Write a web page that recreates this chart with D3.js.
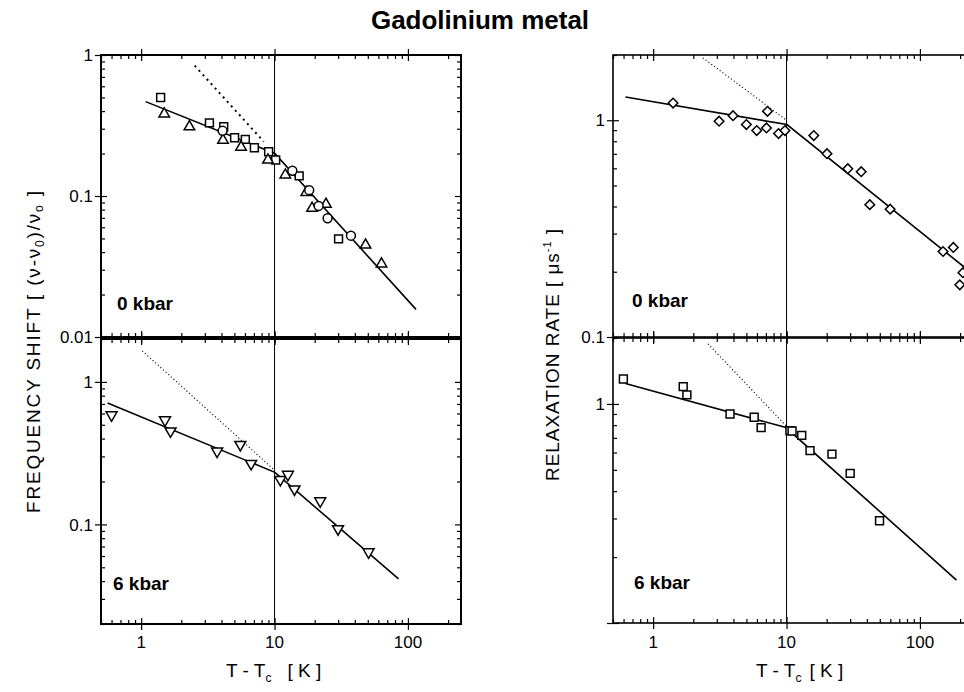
<!DOCTYPE html>
<html>
<head>
<meta charset="utf-8">
<script src="https://cdn.jsdelivr.net/npm/d3@7"></script>
<style>
  html, body { margin: 0; padding: 0; background: #fff; }
  text { font-family: "Liberation Sans", Arial, Helvetica, sans-serif; fill: #000; }
</style>
</head>
<body>
<svg id="chart" width="964" height="692"></svg>
<script>
// ---- Data: [T - Tc (K), value] ----
const xTickLabels = [1, 10, 100];

// Frequency shift, 0 kbar
const fs0Squares = [[1.4,0.50],[3.25,0.33],[4.16,0.31],[5.02,0.259],[6.04,0.252],[7.06,0.22],[9.03,0.206],[10.2,0.18],[15.3,0.139],[30.2,0.0496]];
const fs0Triangles = [[1.49,0.382],[2.3,0.31],[4.11,0.249],[5.61,0.222],[8.93,0.18],[12.05,0.141],[17.3,0.106],[19.1,0.0818],[24.3,0.0873],[48.1,0.0449],[63.4,0.033]];
const fs0Circles = [[4.08,0.29],[13.6,0.151],[18.2,0.11],[21.4,0.085],[25,0.0695],[37.4,0.0523]];
const fs0Fit = [[1.08,0.467],[10,0.201],[115,0.0157]];
const fs0Extrap = [[2.52,0.84],[8.3,0.243]];

// Frequency shift, 6 kbar
const fs6Triangles = [[0.6,0.586],[1.51,0.54],[1.66,0.452],[3.71,0.326],[5.54,0.363],[6.67,0.267],[11.05,0.206],[12.6,0.224],[14.1,0.177],[22,0.146],[29.9,0.093],[50.7,0.064]];
const fs6Fit = [[0.56,0.71],[10.06,0.232],[85,0.0414]];
const fs6Extrap = [[1.02,1.65],[10,0.24]];

// Relaxation rate, 0 kbar
const rr0Diamonds = [[1.41,1.2],[3.12,0.99],[3.97,1.05],[5.0,0.955],[5.98,0.896],[7.07,0.922],[7.2,1.1],[8.71,0.868],[9.73,0.896],[16,0.85],[20.1,0.701],[28.8,0.598],[36.3,0.579],[42.1,0.408],[59.8,0.389],[149,0.248],[178,0.259],[210,0.198],[199,0.174]];
const rr0Fit = [[0.62,1.28],[10.07,0.955],[250,0.195]];
const rr0Extrap = [[2.36,1.94],[10,1.0]];

// Relaxation rate, 6 kbar
const rr6Squares = [[0.598,1.30],[1.68,1.2],[1.79,1.1],[3.77,0.9],[5.72,0.869],[6.45,0.78],[10.6,0.755],[11,0.752],[13,0.719],[15,0.612],[21.9,0.59],[30,0.482],[49.8,0.293]];
const rr6Fit = [[0.62,1.24],[9.9,0.78],[188,0.157]];
const rr6Extrap = [[2.58,1.88],[10,0.79]];

const tc = 10; // reference line at T - Tc = 10 K

// ---- Layout ----
const svg = d3.select("#chart");

const xLeft = d3.scaleLog().domain([0.5, 250]).range([101, 461]);
const xRight = d3.scaleLog().domain([0.5, 250]).range([613, 973]);

const panels = [
  { x: xLeft,  y: d3.scaleLog().domain([0.01, 1]).range([337, 55]), yLabels: [1, 0.1, 0.01], xLabels: false,
    label: "0  kbar", labelPos: [117, 310], frame: 2,
    series: [{ data: fs0Squares, shape: "square" }, { data: fs0Triangles, shape: "tri" }, { data: fs0Circles, shape: "circle" }],
    fit: fs0Fit, extrap: fs0Extrap, dash: "2,4", dashW: 2 },
  { x: xLeft,  y: d3.scaleLog().domain([0.02, 2]).range([624, 339]), yLabels: [1, 0.1], xLabels: true,
    label: "6 kbar", labelPos: [113, 590], frame: 2,
    series: [{ data: fs6Triangles, shape: "tridown" }],
    fit: fs6Fit, extrap: fs6Extrap, dash: "1,2.5", dashW: 1.2 },
  { x: xRight, y: d3.scaleLog().domain([0.1, 2]).range([337, 55]), yLabels: [1, 0.1], xLabels: false,
    label: "0 kbar", labelPos: [632, 307], frame: 1.6,
    series: [{ data: rr0Diamonds, shape: "diamond" }],
    fit: rr0Fit, extrap: rr0Extrap, dash: "1,2.5", dashW: 1.2 },
  { x: xRight, y: d3.scaleLog().domain([0.1, 2]).range([623, 338]), yLabels: [1], xLabels: true,
    label: "6 kbar", labelPos: [634, 589], frame: 1.6,
    series: [{ data: rr6Squares, shape: "square" }],
    fit: rr6Fit, extrap: rr6Extrap, dash: "1,2.5", dashW: 1.2 }
];

const shapes = {
  square:  { type: d3.symbolSquare,   size: 62, rot: 0 },
  tri:     { type: d3.symbolTriangle, size: 48, rot: 0 },
  tridown: { type: d3.symbolTriangle, size: 52, rot: 180 },
  circle:  { type: d3.symbolCircle,   size: 62, rot: 0 },
  diamond: { type: d3.symbolSquare,   size: 46, rot: 45 }
};

const fmt = v => (v >= 1 ? d3.format("d")(v) : String(v));
const isDecade = v => Math.abs(Math.log10(v) - Math.round(Math.log10(v))) < 1e-9;

panels.forEach(p => {
  const [x0, x1] = p.x.range();
  const [yb, yt] = p.y.range();
  const g = svg.append("g");

  // ticks on all four edges: minor ticks point inward, decades cross the edge
  const majorX = p.x.ticks().filter(isDecade);
  const minorX = p.x.ticks().filter(v => !isDecade(v));
  const majorY = p.y.ticks().filter(isDecade);
  const minorY = p.y.ticks().filter(v => !isDecade(v));

  const edge = (axisFn, scale, vals, size, tx, ty) => {
    const a = g.append("g").attr("transform", `translate(${tx},${ty})`)
      .call(axisFn(scale).tickValues(vals).tickSize(size).tickFormat(""));
    a.select(".domain").remove();
    a.selectAll("line").attr("stroke", "#000").attr("stroke-width", 1.2);
    return a;
  };
  edge(d3.axisBottom, p.x, minorX, -4, 0, yb);
  edge(d3.axisBottom, p.x, majorX, -6, 0, yb).selectAll("line").attr("y2", 6).attr("y1", -6);
  edge(d3.axisTop, p.x, minorX, -4, 0, yt);
  edge(d3.axisTop, p.x, majorX, -6, 0, yt).selectAll("line").attr("y2", 6).attr("y1", -6);
  edge(d3.axisLeft, p.y, minorY, -4, x0, 0);
  edge(d3.axisLeft, p.y, majorY, 6, x0, 0).selectAll("line").attr("x1", 6).attr("x2", -6);
  edge(d3.axisRight, p.y, minorY, -4, x1, 0);
  edge(d3.axisRight, p.y, majorY, -6, x1, 0);

  // frame
  g.append("rect").attr("x", x0).attr("y", yt).attr("width", x1 - x0).attr("height", yb - yt)
    .attr("fill", "none").attr("stroke", "#000").attr("stroke-width", p.frame);

  // y tick labels
  p.yLabels.forEach(v => {
    g.append("text").attr("x", x0 - 8).attr("y", p.y(v)).attr("dy", "0.36em")
      .attr("text-anchor", "end").attr("font-size", 17).text(fmt(v));
  });
  // x tick labels
  if (p.xLabels) {
    xTickLabels.forEach(v => {
      g.append("text").attr("x", p.x(v)).attr("y", 648).attr("text-anchor", "middle")
        .attr("font-size", 17).text(fmt(v));
    });
  }

  // reference line at T - Tc = 10 K
  g.append("line").attr("x1", p.x(tc)).attr("x2", p.x(tc)).attr("y1", yt).attr("y2", yb)
    .attr("stroke", "#000").attr("stroke-width", 1);

  const line = d3.line().x(d => p.x(d[0])).y(d => p.y(d[1]));
  g.append("path").attr("d", line(p.fit)).attr("fill", "none").attr("stroke", "#000").attr("stroke-width", 1.6);
  g.append("path").attr("d", line(p.extrap)).attr("fill", "none").attr("stroke", "#000")
    .attr("stroke-width", p.dashW).attr("stroke-dasharray", p.dash);

  p.series.forEach(s => {
    const sh = shapes[s.shape];
    g.selectAll(null).data(s.data).enter().append("path")
      .attr("d", d3.symbol().type(sh.type).size(sh.size))
      .attr("transform", d => `translate(${p.x(d[0])},${p.y(d[1])}) rotate(${sh.rot})`)
      .attr("fill", "#fff").attr("stroke", "#000").attr("stroke-width", 1.5);
  });

  g.append("text").attr("x", p.labelPos[0]).attr("y", p.labelPos[1])
    .attr("font-size", 19).attr("font-weight", "bold").text(p.label);
});

// title
svg.append("text").attr("x", 480).attr("y", 29).attr("text-anchor", "middle")
  .attr("font-size", 26).attr("font-weight", "bold").text("Gadolinium metal");

// y-axis titles (stretched to the span they occupy beside the panels)
const yt1 = svg.append("text").attr("transform", "translate(40,352) rotate(-90)")
  .attr("text-anchor", "middle").attr("font-size", 19)
  .attr("textLength", 322).attr("lengthAdjust", "spacing");
yt1.append("tspan").text("FREQUENCY SHIFT  [  (\u03BD-\u03BD");
yt1.append("tspan").attr("font-size", 12).attr("dy", 4).text("0");
yt1.append("tspan").attr("dy", -4).text(")/\u03BD");
yt1.append("tspan").attr("font-size", 12).attr("dy", 3).text("o");
yt1.append("tspan").attr("dy", -3).text("  ]");

const yt2 = svg.append("text").attr("transform", "translate(559,355) rotate(-90)")
  .attr("text-anchor", "middle").attr("font-size", 19)
  .attr("textLength", 252).attr("lengthAdjust", "spacing");
yt2.append("tspan").text("RELAXATION RATE  [  \u03BCs");
yt2.append("tspan").attr("font-size", 11).attr("dy", -8).text("-1");
yt2.append("tspan").attr("dy", 8).text("  ]");

// x-axis titles
[[226, 16], [756, 8]].forEach(([x0, gap]) => {
  const t = svg.append("text").attr("x", x0).attr("y", 677).attr("font-size", 19);
  t.append("tspan").text("T - T");
  t.append("tspan").attr("font-size", 12).attr("dy", 5).text("c");
  t.append("tspan").attr("dy", -5).attr("dx", gap).text("[ K ]");
});
</script>
</body>
</html>
